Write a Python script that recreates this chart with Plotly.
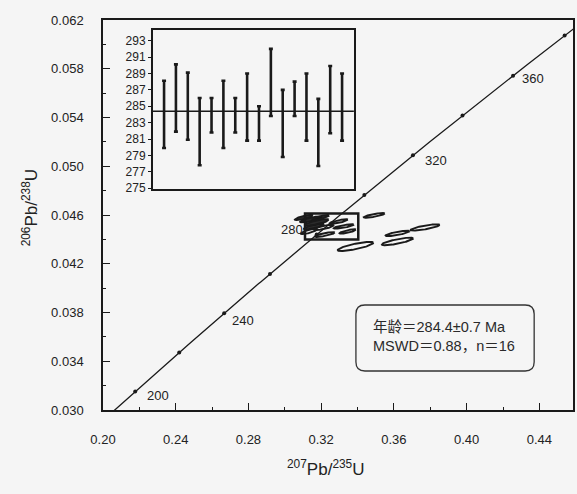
import numpy as np
import plotly.graph_objects as go

# ---------------- data ----------------
# decay constants (per year)
lam238 = 1.55125e-10
lam235 = 9.8485e-10

# concordia age range (Ma) and marked ages
curve_ages = list(range(188, 390, 1))
marker_ages = [200, 220, 240, 260, 280, 300, 320, 340, 360, 380]
label_ages = [200, 240, 280, 320, 360]

# analysis ellipses: centre 207Pb/235U, centre 206Pb/238U, half-extent x, half-extent y, correlation
ell_x = [0.3105, 0.3144, 0.3176, 0.3160, 0.3198, 0.3215, 0.3297, 0.3324, 0.3346, 0.3220, 0.3133,
         0.3492, 0.3620, 0.3772, 0.3620, 0.3389]
ell_y = [0.04580, 0.04564, 0.04539, 0.04506, 0.04580, 0.04498, 0.04547, 0.04506, 0.04465, 0.04440, 0.04465,
         0.04597, 0.04449, 0.04498, 0.04383, 0.04342]
ell_ex = [0.0050, 0.0060, 0.0065, 0.0055, 0.0045, 0.0055, 0.0050, 0.0055, 0.0045, 0.0055, 0.0045,
          0.0058, 0.0066, 0.0080, 0.0086, 0.0098]
ell_ey = [0.00022, 0.00025, 0.00028, 0.00025, 0.00020, 0.00022, 0.00018, 0.00018, 0.00018, 0.00020, 0.00022,
          0.00019, 0.00022, 0.00026, 0.00031, 0.00038]
ell_rho = [0.8] * 16
ell_dense = [True, True, True, True, True, False, False, False, False, False, False,
             False, False, False, False, False]

# mean box
box_x = [0.3111, 0.3404]
box_y = [0.04399, 0.04613]

# inset: weighted-mean 206Pb/238U ages (Ma) with errors
spot_no = list(range(1, 17))
spot_age = [284.0, 286.0, 285.0, 281.9, 283.9, 284.0, 283.9, 284.9, 282.9, 287.9, 282.9, 285.9, 284.9, 281.8, 285.8, 284.9]
spot_err = [4.1, 4.1, 4.1, 4.1, 2.1, 4.1, 2.1, 4.1, 2.1, 4.1, 4.1, 2.1, 4.1, 4.1, 4.1, 4.1]
mean_age = 284.4

result_text = "年龄＝284.4±0.7 Ma<br>MSWD＝0.88，n＝16"

x_ticks = [0.20, 0.24, 0.28, 0.32, 0.36, 0.40, 0.44]
y_ticks = [0.030, 0.034, 0.038, 0.042, 0.046, 0.050, 0.054, 0.058, 0.062]
inset_ticks = [275, 277, 279, 281, 283, 285, 287, 289, 291, 293]

# ---------------- helpers ----------------
def conc(t_ma):
    t = np.asarray(t_ma, dtype=float) * 1e6
    return np.exp(lam235 * t) - 1, np.exp(lam238 * t) - 1

FONT = "Liberation Sans, Arial, Noto Sans CJK SC, sans-serif"
INK = "#1a1a1a"
BG = "#f5f5f5"

fig = go.Figure()

# concordia
cx, cy = conc(curve_ages)
fig.add_trace(go.Scatter(x=cx, y=cy, mode="lines", line=dict(color=INK, width=1.3),
                         hoverinfo="skip", showlegend=False))
mx, my = conc(marker_ages)
fig.add_trace(go.Scatter(x=mx, y=my, mode="markers", marker=dict(color=INK, size=4),
                         hoverinfo="skip", showlegend=False))

# ellipses
th = np.linspace(0, 2 * np.pi, 120)
for x0, y0, ex, ey, r, dense in zip(ell_x, ell_y, ell_ex, ell_ey, ell_rho, ell_dense):
    xs = x0 + ex * np.cos(th)
    ys = y0 + ey * (r * np.cos(th) + np.sqrt(1 - r * r) * np.sin(th))
    fig.add_trace(go.Scatter(x=xs, y=ys, mode="lines", line=dict(color=INK, width=1.9),
                             fill="toself" if dense else "none",
                             fillcolor="rgba(20,20,20,0.9)",
                             hoverinfo="skip", showlegend=False))

# mean box
fig.add_shape(type="rect", xref="x", yref="y", x0=box_x[0], x1=box_x[1], y0=box_y[0], y1=box_y[1],
              line=dict(color=INK, width=2.5))

# concordia labels
lx, ly = conc(label_ages)
offs = {200: (23, -4), 240: (19, -7), 280: (-25, 5), 320: (23, -5), 360: (20, -3)}
for a, xx, yy in zip(label_ages, lx, ly):
    dx, dy = offs[a]
    fig.add_annotation(x=xx, y=yy, xref="x", yref="y", text=str(a), showarrow=False,
                       xshift=dx, yshift=dy, font=dict(family=FONT, size=13, color="#222"))

# inset
fig.add_trace(go.Scatter(x=spot_no, y=spot_age, mode="markers", marker=dict(size=1, color=INK, opacity=0),
                         error_y=dict(type="data", array=spot_err, symmetric=True, color=INK,
                                      thickness=2.6, width=2),
                         xaxis="x2", yaxis="y2", hoverinfo="skip", showlegend=False))
fig.add_trace(go.Scatter(x=[0.05, 17.0], y=[mean_age, mean_age], mode="lines",
                         line=dict(color=INK, width=1.5), xaxis="x2", yaxis="y2",
                         hoverinfo="skip", showlegend=False))

# result box (rounded)
W, H = 472.0, 390.0
def px(xp, yp):
    return (xp - 103) / W, (410 - yp) / H
x0p, y0p = px(357, 371)
x1p, y1p = px(536, 305)
rx, ry = 9 / W, 9 / H
path = (f"M {x0p+rx},{y0p} L {x1p-rx},{y0p} Q {x1p},{y0p} {x1p},{y0p+ry} "
        f"L {x1p},{y1p-ry} Q {x1p},{y1p} {x1p-rx},{y1p} L {x0p+rx},{y1p} "
        f"Q {x0p},{y1p} {x0p},{y1p-ry} L {x0p},{y0p+ry} Q {x0p},{y0p} {x0p+rx},{y0p} Z")
fig.add_shape(type="path", xref="paper", yref="paper", path=path, line=dict(color="#333", width=1.3))
tx, tyy = px(372, 336)
fig.add_annotation(x=tx, y=tyy, xref="paper", yref="paper", text=result_text, showarrow=False,
                   xanchor="left", yanchor="middle", align="left",
                   font=dict(family=FONT, size=14.5, color="#2a2a2a"))

# axis titles
tx, tyy = px(327, 481)
fig.add_annotation(x=tx, y=tyy, xref="paper", yref="paper", showarrow=False,
                   text="<sup>207</sup>Pb/<sup>235</sup>U", font=dict(family=FONT, size=17, color="#222"))
tx, tyy = px(17, 207)
fig.add_annotation(x=tx, y=tyy, xref="paper", yref="paper", showarrow=False, textangle=-90,
                   text="<sup>206</sup>Pb/<sup>238</sup>U", font=dict(family=FONT, size=17, color="#222"))

fig.update_layout(
    width=577, height=494,
    margin=dict(l=103, r=2, t=20, b=84),
    paper_bgcolor=BG, plot_bgcolor=BG,
    showlegend=False,
    xaxis=dict(range=[0.20, 0.4585], tickvals=x_ticks, ticktext=[f"{v:.2f}" for v in x_ticks],
               ticks="inside", ticklen=7, tickwidth=1.3, tickcolor=INK,
               showline=True, linecolor=INK, linewidth=1.5, mirror=True, showgrid=False, zeroline=False,
               minor=dict(tickvals=[0.22, 0.26, 0.30, 0.34, 0.38, 0.42], ticks="inside", ticklen=3,
                          tickcolor=INK, tickwidth=1.2),
               ticklabelstandoff=17, tickfont=dict(family=FONT, size=13, color="#222")),
    yaxis=dict(range=[0.030, 0.062], tickvals=y_ticks, ticktext=[f"{v:.3f}" for v in y_ticks],
               ticks="inside", ticklen=7, tickwidth=1.3, tickcolor=INK,
               showline=True, linecolor=INK, linewidth=1.5, mirror=True, showgrid=False, zeroline=False,
               minor=dict(tickvals=[0.032, 0.036, 0.040, 0.044, 0.048, 0.052, 0.056, 0.060], ticks="inside",
                          ticklen=3, tickcolor=INK, tickwidth=1.2),
               ticklabelstandoff=15, tickfont=dict(family=FONT, size=13, color="#222")),
    xaxis2=dict(domain=[(153 - 103) / W, (355 - 103) / W], anchor="y2", range=[0.05, 17.0],
                showticklabels=False, ticks="", showline=True, linecolor=INK, linewidth=1.5, mirror=True,
                showgrid=False, zeroline=False),
    yaxis2=dict(domain=[(410 - 189) / H, (410 - 30) / H], anchor="x2", range=[274.9, 294.3],
                tickvals=inset_ticks, ticks="outside", ticklen=3, tickcolor=INK,
                showline=True, linecolor=INK, linewidth=1.5, mirror=True, showgrid=False, zeroline=False,
                tickfont=dict(family=FONT, size=12, color="#222")),
)

fig.write_html("out.html")
